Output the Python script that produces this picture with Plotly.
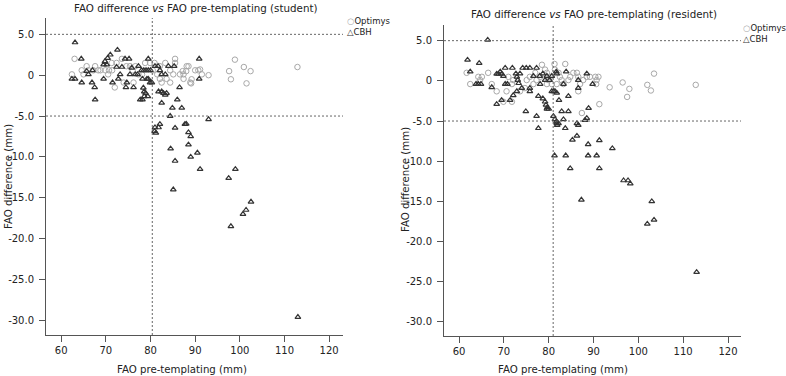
import plotly.graph_objects as go

# ---------------- data ----------------
student_cbh_x = [63.1,64.5,72.6,71.0,70.4,69.8,69.5,70.2,74.3,75.2,79.5,90.9,62.4,63.1,64.6,65.7,66.1,67.0,66.9,67.5,67.6,69.5,71.5,72.8,73.2,72.4,73.6,74.7,74.5,76.2,75.4,76.6,77.1,75.8,77.3,78.0,78.5,79.0,79.5,80.0,78.2,79.2,79.5,79.9,80.3,78.4,78.6,78.9,77.7,78.2,78.6,79.4,81.0,81.7,82.1,83.3,82.5,84.0,85.3,81.8,82.5,82.9,83.3,83.6,82.5,84.9,87.0,86.0,86.5,84.4,87.7,90.9,81.0,81.8,82.1,85.5,80.9,81.2,88.0,93.0,88.5,89.0,88.5,84.5,90.5,89.0,85.5,91.1,99.0,97.5,85.1,98.0,100.7,101.4,102.5,113.0]
student_cbh_y = [4.0,2.0,3.1,2.5,2.1,1.7,1.3,1.3,2.0,2.0,2.0,2.0,-0.45,-0.45,-0.9,0.5,0.1,0.6,-0.9,-1.5,-3.0,-0.45,-0.9,-0.45,0.1,1.0,1.0,-0.9,-1.5,-1.5,0.1,0.1,0.1,0.9,1.1,0.6,0.6,0.6,0.6,0.6,-0.45,-0.45,-0.45,-0.9,-0.9,-1.55,-2.0,-2.2,-3.0,-3.0,-2.6,-2.6,1.1,1.1,0.6,0.1,0.1,1.1,1.1,-2.0,-2.0,-2.2,-2.4,-2.2,-3.4,-4.0,-4.0,-3.0,-1.5,-5.0,-6.0,-0.45,-6.4,-6.4,-6.0,-6.45,-6.85,-7.06,-5.96,-5.4,-7.0,-7.5,-8.5,-9.0,-9.5,-10.0,-10.5,-11.5,-11.5,-12.6,-14.0,-18.5,-17.0,-16.5,-15.5,-29.6]

student_opt_x = [63.0,62.4,65.7,67.6,64.6,66.1,67.2,68.3,68.8,69.9,70.7,71.4,71.3,72.4,73.6,74.6,75.4,76.6,76.2,74.0,77.3,78.1,78.8,79.9,80.9,82.1,83.3,85.5,85.5,84.4,85.1,86.6,87.4,88.1,88.5,90.0,90.7,82.1,82.5,83.6,84.4,88.9,87.4,91.5,98.9,100.9,102.4,112.9,97.6,98.0,101.5,93.0,91.1,89.2,87.2,88.0,89.1,65.0,70.5,72.0,81.5,80.5,76.0]
student_opt_y = [2.0,0.1,1.1,1.1,0.6,0.6,0.6,0.6,0.6,0.6,0.6,0.6,1.5,1.5,2.0,1.1,1.1,1.1,-0.9,-0.9,0.1,0.1,1.5,1.5,1.5,1.1,1.5,2.0,1.5,0.6,0.1,0.1,0.1,1.1,1.1,0.6,0.6,-0.45,-0.9,-0.45,-0.9,-0.9,-0.45,0.1,1.9,1.0,0.5,1.0,0.5,-0.5,-1.0,0.0,0.7,-0.5,0.5,0.5,-1.0,0.1,0.1,-1.5,0.1,0.6,0.6]

resident_cbh_x = [66.4,61.9,64.5,62.5,63.8,64.3,64.9,67.3,68.4,68.8,69.2,69.5,69.9,70.3,71.9,70.3,70.8,72.7,72.9,73.1,73.3,73.6,74.2,75.0,75.8,77.3,74.0,72.9,72.1,71.4,69.5,68.4,75.8,75.8,76.6,78.0,78.7,79.6,80.2,80.7,81.8,81.7,78.1,79.2,77.7,78.7,79.2,79.4,79.7,79.6,80.0,74.9,77.3,80.7,81.1,81.4,81.8,82.3,83.3,83.9,84.4,86.6,86.6,88.5,89.8,88.9,82.9,84.4,81.05,81.4,81.7,81.8,81.9,83.3,86.3,86.6,88.1,88.5,83.7,77.7,82.2,86.3,85.3,88.8,91.3,94.2,81.3,83.8,88.8,90.7,84.8,91.3,96.7,97.7,98.2,87.3,103.0,102.0,103.5,113.0]
resident_cbh_y = [5.1,2.6,2.2,1.15,-0.4,-0.4,-0.4,-0.8,0.86,0.86,1.15,0.86,0.6,1.6,1.6,-0.4,-0.4,0.9,0.5,0.1,-0.3,0.9,1.6,1.6,1.6,1.6,-0.9,-1.3,-1.8,-2.4,-2.4,-2.9,-0.9,-1.3,0.6,0.6,0.9,0.6,0.1,0.6,0.9,1.15,-0.4,0.1,-1.9,-2.2,-2.6,-3.0,-3.3,-3.5,-3.5,-3.8,-4.4,-1.3,-1.3,-1.3,-1.5,-2.4,-0.4,1.15,-1.9,-0.9,0.1,0.9,-0.4,-3.4,-3.8,-3.8,-4.4,-4.8,-5.1,-5.3,-5.5,-4.8,-5.3,-5.5,-4.9,-4.65,-5.9,-5.9,-5.3,-6.85,-7.35,-7.9,-7.4,-8.4,-9.3,-9.3,-9.3,-9.3,-10.9,-10.9,-12.4,-12.4,-12.8,-14.8,-15.0,-17.8,-17.3,-23.8]

resident_opt_x = [61.7,64.3,65.1,66.5,62.5,64.7,67.3,68.4,70.6,69.9,71.8,71.0,72.1,71.8,73.6,74.7,75.1,75.8,77.0,77.3,76.6,78.5,79.2,79.6,80.3,79.9,79.6,78.1,81.3,83.7,81.4,82.2,82.5,82.9,83.3,81.8,80.7,84.4,84.8,85.5,86.3,86.6,87.7,88.5,87.0,86.6,87.4,89.2,90.4,90.7,91.1,90.6,91.3,93.6,96.5,97.5,98.0,102.0,102.8,103.5,112.8]
resident_opt_y = [1.0,0.5,0.5,1.0,-0.4,0.1,-0.4,-1.3,-1.3,-2.6,-2.6,0.5,0.1,-0.4,-1.3,-0.9,0.1,0.5,1.0,0.1,-0.4,2.0,1.4,1.0,0.5,0.1,-0.4,0.5,2.1,2.1,1.4,1.0,0.5,0.1,-0.4,-0.4,-0.4,0.1,0.5,1.0,1.0,0.5,0.1,0.5,-0.4,-1.3,-4.0,0.5,0.5,0.1,0.5,-0.4,-2.9,-0.8,-0.2,-2.0,-1.0,-0.5,-1.2,0.9,-0.5]

x_ticks = [60, 70, 80, 90, 100, 110, 120]
y_ticks = [5, 0, -5, -10, -15, -20, -25, -30]
y_tick_text = ["5.0", "0", "-5.0", "-10.0", "-15.0", "-20.0", "-25.0", "-30.0"]

titles = ["FAO difference <i>vs</i> FAO pre-templating (student)",
          "FAO difference <i>vs</i> FAO pre-templating (resident)"]
series_names = ["Optimys", "CBH"]
cut_x = [80.4, 81.0]
limits = [5, -5]

# ---------------- figure ----------------
W, H = 786, 376
FONT = "DejaVu Sans"
TXT = "#222"
OPT_COL = "#a8a8a8"
CBH_COL = "#333"
fig = go.Figure()

circle_style = dict(symbol="circle-open", size=5.5, color=OPT_COL, line=dict(width=1, color=OPT_COL))
tri_style = dict(symbol="triangle-up-open", size=5, color=CBH_COL, line=dict(width=1.2, color=CBH_COL))

fig.add_trace(go.Scatter(x=student_opt_x, y=student_opt_y, mode="markers", name=series_names[0],
                         marker=circle_style, xaxis="x", yaxis="y"))
fig.add_trace(go.Scatter(x=student_cbh_x, y=student_cbh_y, mode="markers", name=series_names[1],
                         marker=tri_style, xaxis="x", yaxis="y"))
fig.add_trace(go.Scatter(x=resident_opt_x, y=resident_opt_y, mode="markers", name=series_names[0],
                         marker=circle_style, xaxis="x2", yaxis="y2"))
fig.add_trace(go.Scatter(x=resident_cbh_x, y=resident_cbh_y, mode="markers", name=series_names[1],
                         marker=tri_style, xaxis="x2", yaxis="y2"))

def px_x(p):
    return p / W

def px_y(p):
    return 1 - p / H

axis_common = dict(showline=True, linecolor="#555", linewidth=1, ticks="outside", ticklen=6,
                   tickcolor="#555", showgrid=False, zeroline=False, automargin=False,
                   tickfont=dict(family=FONT, size=10, color=TXT))

fig.update_layout(
    template="none",
    width=W, height=H, margin=dict(l=0, r=0, t=0, b=0),
    paper_bgcolor="white", plot_bgcolor="white", showlegend=False,
    font=dict(family=FONT, size=10, color=TXT),
    xaxis=dict(domain=[px_x(46), px_x(343)], range=[56.6, 123.1], tickvals=x_ticks,
               anchor="y", **axis_common),
    yaxis=dict(domain=[px_y(335), px_y(18)], range=[-31.8, 7.0], tickvals=y_ticks,
               ticktext=y_tick_text, anchor="x", ticklabelstandoff=3, **axis_common),
    xaxis2=dict(domain=[px_x(444), px_x(741)], range=[56.65, 122.9], tickvals=x_ticks,
                anchor="y2", **axis_common),
    yaxis2=dict(domain=[px_y(336), px_y(25)], range=[-31.75, 6.95], tickvals=y_ticks,
                ticktext=y_tick_text, anchor="x2", ticklabelstandoff=3, **axis_common),
)

# reference lines
for k, (xr, yr) in enumerate([("x", "y"), ("x2", "y2")]):
    for lv in limits:
        fig.add_shape(type="line", xref=f"{xr} domain", yref=yr, x0=0, x1=1, y0=lv, y1=lv,
                      line=dict(color="#666", width=1, dash="2px,2px"))
    fig.add_shape(type="line", xref=xr, yref=f"{yr} domain", x0=cut_x[k], x1=cut_x[k], y0=0, y1=1,
                  line=dict(color="#666", width=1, dash="2px,2px"))

def note(text, x, y, size=10, angle=0, xanchor="center"):
    fig.add_annotation(text=text, x=px_x(x), y=px_y(y), xref="paper", yref="paper",
                       xanchor=xanchor, yanchor="middle", showarrow=False, textangle=angle,
                       font=dict(family=FONT, size=size, color=TXT))

# titles
for t, (tx, ty) in zip(titles, [(195, 8), (594, 14)]):
    note(t, tx, ty, size=10.3)

# axis titles
for cx in [182, 563]:
    note("FAO pre-templating (mm)", cx, 369, size=10.2)
for cx, cy in [(8, 177), (405, 180)]:
    note("FAO difference (mm)", cx, cy, size=10.2, angle=-90)

# legends (per panel)
for lx, ly in [(345, 21), (741, 28)]:
    note(f"<span style='color:{OPT_COL}'>○</span>{series_names[0]}", lx, ly, size=8.5, xanchor="left")
    note(f"<span style='color:{CBH_COL}'>△</span>{series_names[1]}", lx, ly + 11, size=8.5, xanchor="left")

# remove the default page margin so the figure fills the window exactly
fig.write_html("out.html", config={"displayModeBar": False},
               post_script="document.body.style.margin='0px';")
